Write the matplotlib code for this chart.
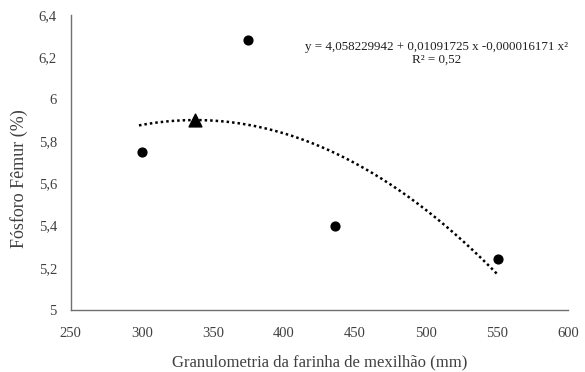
import numpy as np
import matplotlib
matplotlib.use("Agg")
import matplotlib.pyplot as plt

plt.rcParams['font.family'] = ['Liberation Serif', 'DejaVu Serif']

# observed points
granulometry = [300, 375, 436, 551]
phosphorus = [5.75, 6.28, 5.40, 5.24]

# maximum point of the fitted curve
peak_x = [337.5]
peak_y = [5.90]

# quadratic trend coefficients as printed on the chart (c0, c1, c2)
coeffs = [4.058229942, 0.01091725, -0.000016171]
trend_range = [298, 550]

xticks = [250, 300, 350, 400, 450, 500, 550, 600]
yticks = [5, 5.2, 5.4, 5.6, 5.8, 6, 6.2, 6.4]
ytick_labels = ['5', '5,2', '5,4', '5,6', '5,8', '6', '6,2', '6,4']

fig = plt.figure(figsize=(5.85, 3.72), dpi=100)
ax = fig.add_axes([0.121, 0.167, 0.85, 0.793])

xs = np.linspace(trend_range[0], trend_range[1], 200)
ys = np.polyval(coeffs[::-1], xs)
ax.plot(xs, ys, color='black', linestyle=(0, (1, 1.2)), linewidth=1.8)

ax.scatter(granulometry, phosphorus, color='black', s=40, zorder=3)
ax.scatter(peak_x, peak_y, color='black', marker='^', s=85, zorder=3)

ax.set_xlim(250, 600)
ax.set_ylim(5, 6.4)
ax.set_xticks(xticks)
ax.set_xticklabels([str(t) for t in xticks])
ax.set_yticks(yticks)
ax.set_yticklabels(ytick_labels)
ax.tick_params(length=0, labelsize=10.5, colors='#404040')
ax.tick_params(axis='x', pad=12)
ax.tick_params(axis='y', pad=10)

for s in ['top', 'right']:
    ax.spines[s].set_visible(False)
for s in ['left', 'bottom']:
    ax.spines[s].set_color('#707070')
    ax.spines[s].set_linewidth(1)

ax.set_xlabel('Granulometria da farinha de mexilhão (mm)', fontsize=12,
              color='#404040', labelpad=11)
ax.set_ylabel('Fósforo Fêmur (%)', fontsize=13, color='#404040')
ax.yaxis.set_label_coords(-0.087, 0.444)

ax.text(0.736, 0.87, 'y = 4,058229942 + 0,01091725 x -0,000016171 x²\nR² = 0,52',
        transform=ax.transAxes, ha='center', va='center', fontsize=9.4,
        color='#202020', linespacing=1.1)

fig.savefig('out.png', dpi=100)
